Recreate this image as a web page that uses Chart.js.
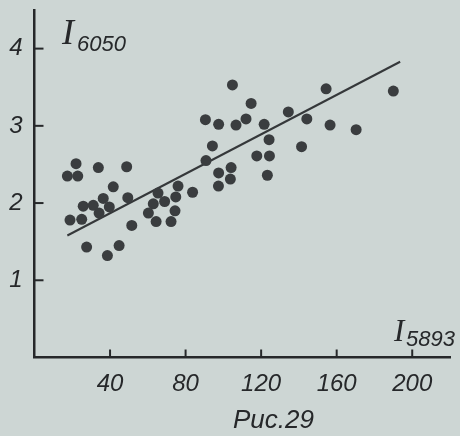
<!DOCTYPE html>
<html>
<head>
<meta charset="utf-8">
<script src="https://cdn.jsdelivr.net/npm/chart.js@4"></script>
<style>
  html, body { margin: 0; padding: 0; background: #cdd6d4; }
  canvas { display: block; }
</style>
</head>
<body>
<canvas id="scatterChart" width="460" height="436"></canvas>
<script>
const xTicks = [40, 80, 120, 160, 200];
const yTicks = [1, 2, 3, 4];

// I5893 (x) и I6050 (y)
const xValues = [
  22.0, 33.8, 48.8, 17.4, 22.9, 41.7, 36.4, 49.4, 25.8, 31.1,
  39.6, 34.2, 18.8, 25.0, 51.5, 27.6, 44.8, 38.6, 65.4, 76.0,
  83.7, 74.8, 62.9, 68.9, 60.3, 74.4, 64.4, 72.3, 94.2, 90.8,
  97.5, 104.1, 103.7, 97.4, 104.8, 114.7, 90.5, 97.5, 106.7, 112.0,
  121.6, 124.2, 134.4, 144.2, 141.4, 117.7, 124.4, 123.3, 154.4, 190.0,
  156.5, 170.3
];
const yValues = [
  2.51, 2.46, 2.47, 2.35, 2.35, 2.21, 2.06, 2.07, 1.96, 1.97,
  1.95, 1.87, 1.78, 1.79, 1.71, 1.43, 1.45, 1.32, 2.13, 2.22,
  2.14, 2.08, 1.99, 2.02, 1.87, 1.90, 1.76, 1.76, 2.74, 2.55,
  2.39, 2.46, 2.31, 2.22, 3.53, 3.29, 3.08, 3.02, 3.01, 3.09,
  3.02, 2.82, 3.18, 3.09, 2.73, 2.61, 2.61, 2.36, 3.48, 3.45,
  3.01, 2.95
];

// прямая регрессии (концы)
const fitX = [17.4, 193.6];
const fitY = [1.58, 3.83];

const INK = '#26282a';
const handFont = '"Liberation Sans", "DejaVu Sans", sans-serif';
const serifFont = '"Liberation Serif", "DejaVu Serif", serif';

const points = xValues.map((x, i) => ({ x: x, y: yValues[i] }));
const fitLine = fitX.map((x, i) => ({ x: x, y: fitY[i] }));

const paperPlugin = {
  id: 'paper',
  beforeDraw(chart) {
    const ctx = chart.ctx;
    ctx.save();
    ctx.fillStyle = '#cdd6d4';
    ctx.fillRect(0, 0, chart.width, chart.height);
    ctx.restore();
  }
};

const handLabels = {
  id: 'handLabels',
  afterDraw(chart) {
    const ctx = chart.ctx;
    const xs = chart.scales.x;
    const ys = chart.scales.y;
    const area = chart.chartArea;
    ctx.save();
    ctx.strokeStyle = INK;
    ctx.fillStyle = INK;
    ctx.lineWidth = 2;

    // насечки внутрь
    xTicks.forEach(v => {
      const px = xs.getPixelForValue(v);
      ctx.beginPath();
      ctx.moveTo(px, area.bottom);
      ctx.lineTo(px, area.bottom - 8);
      ctx.stroke();
    });
    yTicks.forEach(v => {
      const py = ys.getPixelForValue(v);
      ctx.beginPath();
      ctx.moveTo(area.left, py);
      ctx.lineTo(area.left + 9, py);
      ctx.stroke();
    });

    ctx.textBaseline = 'alphabetic';
    ctx.textAlign = 'left';

    // подпись оси y
    ctx.font = 'italic 36px ' + serifFont;
    ctx.fillText('I', 62, 44);
    ctx.font = 'italic 22px ' + handFont;
    ctx.fillText('6050', 77, 51);

    // подпись оси x
    ctx.font = 'italic 31px ' + serifFont;
    ctx.fillText('I', 394, 341);
    ctx.font = 'italic 22px ' + handFont;
    ctx.fillText('5893', 406, 346);

    // номер рисунка
    ctx.font = 'italic 26px ' + handFont;
    ctx.fillText('Рис.29', 233, 428);

    ctx.restore();
  }
};

new Chart(document.getElementById('scatterChart').getContext('2d'), {
  type: 'scatter',
  data: {
    datasets: [
      {
        data: points,
        backgroundColor: '#3a3d3f',
        borderWidth: 0,
        pointRadius: 5.5
      },
      {
        type: 'line',
        data: fitLine,
        borderColor: '#35383a',
        borderWidth: 2,
        pointRadius: 0,
        fill: false
      }
    ]
  },
  options: {
    responsive: false,
    animation: false,
    layout: { padding: { top: 10, right: 10, left: 0, bottom: 0 } },
    plugins: {
      legend: { display: false },
      tooltip: { enabled: false }
    },
    scales: {
      x: {
        type: 'linear',
        min: 0,
        max: 220,
        afterBuildTicks: s => { s.ticks = xTicks.map(v => ({ value: v })); },
        afterFit: s => { s.height = 78.5; s.paddingLeft = 0; s.paddingRight = 0; },
        grid: { display: false, drawTicks: false },
        border: { display: true, color: INK, width: 2.5 },
        ticks: {
          color: INK,
          padding: 12,
          maxRotation: 0,
          font: { family: handFont, size: 24, style: 'italic' }
        }
      },
      y: {
        type: 'linear',
        min: 0,
        max: 4.5,
        afterBuildTicks: s => { s.ticks = yTicks.map(v => ({ value: v })); },
        afterFit: s => { s.width = 34.5; s.paddingTop = 0; s.paddingBottom = 0; },
        grid: { display: false, drawTicks: false },
        border: { display: true, color: INK, width: 2.5 },
        ticks: {
          color: INK,
          padding: 12,
          font: { family: handFont, size: 24, style: 'italic' }
        }
      }
    }
  },
  plugins: [paperPlugin, handLabels]
});
</script>
</body>
</html>
